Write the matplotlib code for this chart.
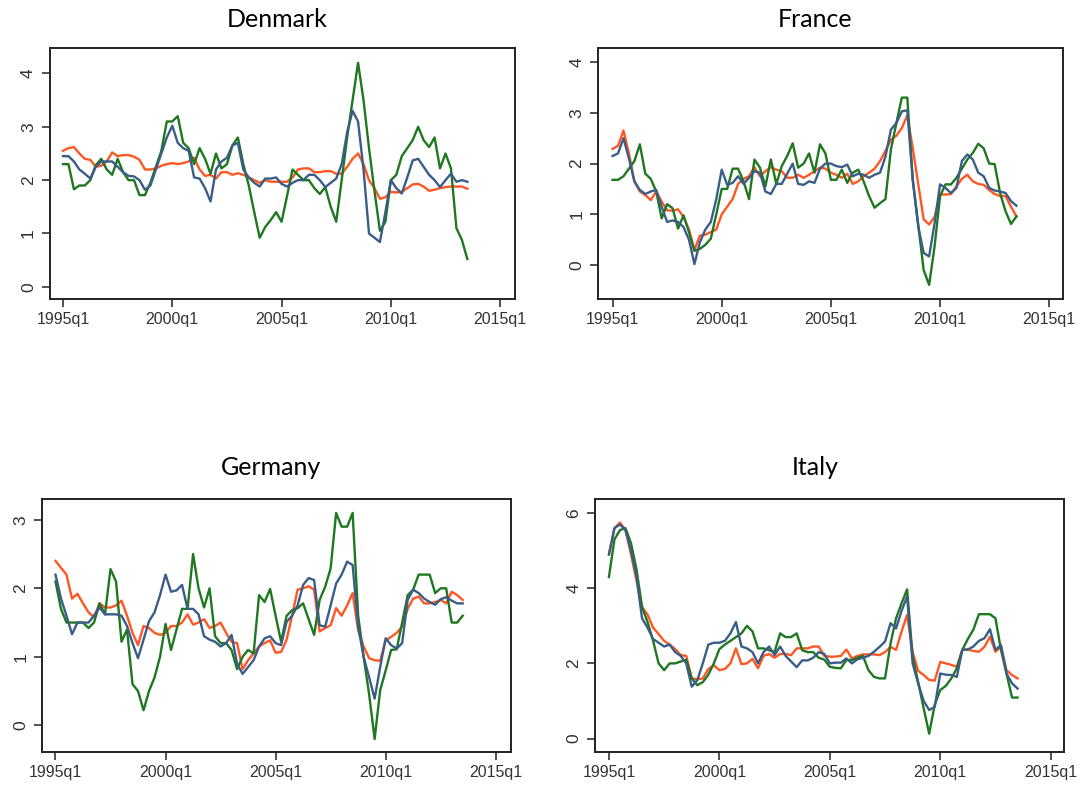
import numpy as np
import matplotlib
matplotlib.use('Agg')
import matplotlib.pyplot as plt

# quarterly index: 0 = 1995q1
tick_pos = [0, 20, 40, 60, 80]
tick_labels = ['1995q1', '2000q1', '2005q1', '2010q1', '2015q1']

denmark_orange = [2.55, 2.6, 2.62, 2.5, 2.4, 2.38, 2.25, 2.27, 2.35, 2.52,
                  2.45, 2.47, 2.47, 2.44, 2.38, 2.2, 2.2, 2.22, 2.27, 2.3,
                  2.32, 2.3, 2.32, 2.35, 2.42, 2.2, 2.08, 2.1, 2.03, 2.15,
                  2.15, 2.1, 2.13, 2.1, 2.05, 2.0, 1.95, 2.0, 1.97, 1.97,
                  1.97, 1.97, 2.05, 2.2, 2.22, 2.22, 2.15, 2.15, 2.17, 2.17,
                  2.12, 2.12, 2.25, 2.4, 2.5, 2.3, 2.0, 1.85, 1.65, 1.68,
                  1.78, 1.77, 1.78, 1.85, 1.92, 1.93, 1.88, 1.8, 1.82, 1.85,
                  1.87, 1.88, 1.88, 1.88, 1.84]
denmark_green = [2.3, 2.3, 1.83, 1.9, 1.9, 2.0, 2.28, 2.4, 2.2, 2.1,
                 2.4, 2.15, 2.0, 2.0, 1.72, 1.72, 1.95, 2.25, 2.55, 3.1,
                 3.1, 3.2, 2.7, 2.6, 2.3, 2.6, 2.4, 2.12, 2.5, 2.22,
                 2.3, 2.65, 2.8, 2.3, 1.9, 1.4, 0.92, 1.12, 1.25, 1.4,
                 1.22, 1.7, 2.2, 2.1, 2.0, 2.0, 1.85, 1.74, 1.87, 1.5,
                 1.22, 2.0, 2.8, 3.5, 4.2, 3.5, 2.6, 1.8, 1.05, 1.22,
                 2.0, 2.1, 2.45, 2.6, 2.75, 3.0, 2.75, 2.62, 2.8, 2.22,
                 2.5, 2.22, 1.1, 0.88, 0.52]
denmark_blue = [2.45, 2.45, 2.35, 2.2, 2.12, 2.03, 2.25, 2.35, 2.35, 2.35,
                2.25, 2.15, 2.08, 2.07, 2.0, 1.82, 1.9, 2.2, 2.5, 2.8,
                3.02, 2.7, 2.6, 2.55, 2.05, 2.03, 1.85, 1.6, 2.2, 2.35,
                2.42, 2.65, 2.7, 2.2, 2.05, 1.95, 1.88, 2.03, 2.03, 2.05,
                1.93, 1.88, 1.95, 2.0, 2.0, 2.1, 2.1, 2.0, 1.87, 1.95,
                2.03, 2.3, 2.9, 3.3, 3.1, 2.2, 1.0, 0.92, 0.84, 1.4,
                2.0, 1.85, 1.75, 2.05, 2.37, 2.4, 2.25, 2.1, 2.0, 1.87,
                2.0, 2.12, 1.97, 2.0, 1.97]

france_orange = [2.29, 2.35, 2.65, 2.2, 1.65, 1.45, 1.38, 1.28, 1.45, 1.25,
                 1.08, 1.07, 1.1, 0.95, 0.7, 0.3, 0.58, 0.6, 0.65, 0.7,
                 1.0, 1.15, 1.3, 1.6, 1.7, 1.75, 1.93, 1.75, 1.85, 1.93,
                 1.88, 1.85, 1.72, 1.72, 1.78, 1.72, 1.78, 1.85, 1.92, 1.9,
                 1.82, 1.78, 1.72, 1.8, 1.6, 1.65, 1.75, 1.82, 1.9, 2.05,
                 2.25, 2.47, 2.55, 2.7, 2.95, 2.3, 1.6, 0.9, 0.8, 0.95,
                 1.39, 1.39, 1.4, 1.55, 1.7, 1.78, 1.65, 1.6, 1.58, 1.48,
                 1.4, 1.36, 1.36, 1.15, 0.96]
france_green = [1.68, 1.68, 1.75, 1.9, 2.05, 2.38, 1.8, 1.7, 1.45, 0.92,
                1.2, 1.12, 0.72, 0.98, 0.65, 0.28, 0.32, 0.4, 0.52, 1.0,
                1.5, 1.5, 1.9, 1.9, 1.65, 1.3, 2.08, 1.92, 1.55, 2.08,
                1.6, 1.95, 2.15, 2.4, 1.92, 2.0, 2.2, 1.82, 2.38, 2.2,
                1.68, 1.68, 1.88, 1.62, 1.82, 1.88, 1.65, 1.36, 1.13, 1.22,
                1.3, 2.28, 2.8, 3.3, 3.3, 1.68, 0.8, -0.1, -0.39, 0.37,
                1.36, 1.59, 1.59, 1.72, 1.9, 2.08, 2.21, 2.39, 2.3, 2.0,
                1.99, 1.42, 1.06, 0.81, 0.96]
france_blue = [2.15, 2.2, 2.5, 2.1, 1.65, 1.48, 1.4, 1.45, 1.48, 1.15,
               0.85, 0.88, 0.85, 0.75, 0.5, 0.02, 0.45, 0.7, 0.85, 1.3,
               1.88, 1.58, 1.62, 1.75, 1.6, 1.72, 1.85, 1.82, 1.45, 1.4,
               1.6, 1.6, 1.8, 2.0, 1.6, 1.58, 1.65, 1.62, 1.9, 2.0,
               2.0, 1.95, 1.93, 1.98, 1.75, 1.8, 1.78, 1.72, 1.78, 1.82,
               2.14, 2.67, 2.8, 3.03, 3.05, 1.68, 0.76, 0.24, 0.17, 0.83,
               1.59, 1.52, 1.42, 1.52, 2.05, 2.18, 2.08, 1.82, 1.75, 1.52,
               1.47, 1.45, 1.42, 1.26, 1.17]

germany_orange = [2.4, 2.3, 2.2, 1.85, 1.92, 1.78, 1.65, 1.58, 1.78, 1.72,
                  1.72, 1.75, 1.82, 1.6, 1.35, 1.17, 1.45, 1.42, 1.35, 1.32,
                  1.35, 1.45, 1.45, 1.5, 1.62, 1.47, 1.5, 1.55, 1.42, 1.45,
                  1.5, 1.35, 1.22, 1.2, 0.82, 0.95, 1.05, 1.15, 1.2, 1.24,
                  1.06, 1.07, 1.25, 1.6, 1.98, 2.0, 2.03, 1.98, 1.37, 1.42,
                  1.46, 1.71, 1.6, 1.75, 1.93, 1.39, 1.15, 0.98, 0.95, 0.94,
                  1.24, 1.29, 1.35, 1.44, 1.7, 1.85, 1.88, 1.78, 1.78, 1.8,
                  1.83, 1.78, 1.95, 1.9, 1.83]
germany_green = [2.1, 1.7, 1.5, 1.5, 1.5, 1.5, 1.42, 1.5, 1.78, 1.62,
                 2.28, 2.1, 1.22, 1.4, 0.6, 0.5, 0.22, 0.5, 0.7, 1.0,
                 1.48, 1.1, 1.4, 1.7, 1.7, 2.5, 2.0, 1.72, 2.0, 1.3,
                 1.2, 1.2, 1.1, 0.82, 1.0, 1.1, 1.05, 1.9, 1.8, 1.99,
                 1.6, 1.22, 1.6, 1.68, 1.71, 1.78, 1.55, 1.32, 1.83, 2.02,
                 2.29, 3.1, 2.9, 2.9, 3.1, 1.6, 1.0, 0.45, -0.2, 0.51,
                 0.8, 1.1, 1.11, 1.5, 1.9, 1.98, 2.2, 2.2, 2.2, 1.93,
                 2.0, 2.0, 1.5, 1.5, 1.6]
germany_blue = [2.2, 1.85, 1.6, 1.33, 1.5, 1.5, 1.5, 1.6, 1.72, 1.62,
                1.62, 1.62, 1.6, 1.45, 1.2, 0.98, 1.25, 1.52, 1.65, 1.9,
                2.2, 1.95, 1.97, 2.05, 1.7, 1.7, 1.62, 1.3, 1.25, 1.22,
                1.15, 1.2, 1.32, 0.9, 0.75, 0.85, 0.95, 1.15, 1.27, 1.3,
                1.2, 1.17, 1.51, 1.6, 1.75, 2.05, 2.15, 2.12, 1.46, 1.44,
                1.75, 2.07, 2.2, 2.39, 2.34, 1.44, 1.0, 0.7, 0.39, 0.85,
                1.27, 1.17, 1.12, 1.2, 1.83, 1.98, 1.93, 1.85, 1.8, 1.76,
                1.84, 1.87, 1.82, 1.78, 1.78]

italy_orange = [4.9, 5.6, 5.75, 5.55, 4.9, 4.2, 3.5, 3.3, 2.95, 2.78,
                2.6, 2.5, 2.38, 2.22, 2.2, 1.6, 1.58, 1.6, 1.85, 1.95,
                1.82, 1.85, 2.0, 2.4, 1.98, 2.0, 2.12, 1.87, 2.2, 2.25,
                2.15, 2.25, 2.25, 2.22, 2.4, 2.4, 2.4, 2.45, 2.45, 2.2,
                2.18, 2.18, 2.2, 2.37, 2.13, 2.2, 2.24, 2.24, 2.24, 2.22,
                2.3, 2.44, 2.36, 2.85, 3.29, 2.3, 1.8, 1.69, 1.56, 1.54,
                2.04, 2.0, 1.96, 1.91, 2.36, 2.37, 2.33, 2.31, 2.44, 2.71,
                2.31, 2.44, 1.82, 1.69, 1.6]
italy_green = [4.3, 5.3, 5.55, 5.6, 5.2, 4.5, 3.5, 3.1, 2.6, 2.0,
               1.82, 2.0, 2.0, 2.05, 2.1, 1.6, 1.42, 1.5, 1.7, 2.0,
               2.38, 2.5, 2.6, 2.7, 2.8, 3.0, 2.85, 2.4, 2.4, 2.35,
               2.3, 2.8, 2.7, 2.7, 2.8, 2.35, 2.3, 2.3, 2.15, 2.1,
               1.91, 1.88, 1.87, 2.09, 2.09, 2.15, 2.2, 1.82, 1.64, 1.6,
               1.6, 2.53, 3.2, 3.6, 3.97, 2.18, 1.5, 0.8, 0.13, 0.9,
               1.29, 1.4, 1.6, 1.87, 2.36, 2.65, 2.9, 3.31, 3.31, 3.31,
               3.2, 2.36, 1.73, 1.09, 1.09]
italy_blue = [4.9, 5.6, 5.7, 5.55, 5.0, 4.3, 3.2, 2.95, 2.65, 2.55,
              2.45, 2.5, 2.3, 2.2, 2.0, 1.38, 1.55, 2.0, 2.5, 2.55,
              2.55, 2.6, 2.8, 3.1, 2.45, 2.4, 2.3, 2.0, 2.3, 2.45,
              2.22, 2.45, 2.2, 2.05, 1.9, 2.08, 2.08, 2.15, 2.3, 2.25,
              2.0, 2.02, 2.02, 2.13, 2.0, 2.11, 2.15, 2.2, 2.31, 2.44,
              2.58, 3.07, 2.93, 3.4, 3.78, 2.0, 1.47, 1.0, 0.76, 0.84,
              1.73, 1.7, 1.69, 1.64, 2.36, 2.37, 2.45, 2.6, 2.67, 2.91,
              2.36, 2.49, 1.73, 1.47, 1.33]

green = '#1f771f'
blue = '#3a5d88'
orange = '#ff5724'

fig = plt.figure(figsize=(10.84, 7.85), dpi=100)
plt.rcParams['font.family'] = ['Liberation Sans', 'DejaVu Sans']


def panel(rect, title, title_xy, o, g, b, yticks, ylim, xlim):
    ax = fig.add_axes(rect)
    ax.plot(np.arange(len(o)), o, color=orange, lw=1.7)
    ax.plot(np.arange(len(g)), g, color=green, lw=1.7)
    ax.plot(np.arange(len(b)), b, color=blue, lw=1.7)
    ax.set_xlim(xlim)
    ax.set_ylim(ylim)
    ax.set_xticks(tick_pos)
    ax.set_xticklabels(tick_labels)
    ax.set_yticks(yticks)
    ax.set_yticklabels([str(t) for t in yticks], rotation=90, va='center')
    ax.tick_params(axis='x', labelsize=11.5, pad=3)
    ax.tick_params(axis='y', labelsize=12.5, pad=4)
    ax.tick_params(axis='both', color='#222222', labelcolor='#333333',
                   length=6, width=1.1)
    for s in ax.spines.values():
        s.set_linewidth(1.4)
        s.set_color('#222222')
    fig.text(title_xy[0], title_xy[1], title, ha='center', va='center',
             fontsize=18, family=['Lato', 'DejaVu Sans'])
    return ax


panel([0.046, 0.619, 0.429, 0.320], 'Denmark', (0.256, 0.975),
      denmark_orange, denmark_green, denmark_blue, [0, 1, 2, 3, 4],
      (-0.23, 4.48), (-2.4, 82.7))
panel([0.552, 0.619, 0.429, 0.320], 'France', (0.752, 0.975),
      france_orange, france_green, france_blue, [0, 1, 2, 3, 4],
      (-0.67, 4.28), (-2.6, 82.6))
panel([0.039, 0.042, 0.432, 0.322], 'Germany', (0.250, 0.404),
      germany_orange, germany_green, germany_blue, [0, 1, 2, 3],
      (-0.39, 3.3), (-2.4, 82.7))
panel([0.549, 0.042, 0.433, 0.322], 'Italy', (0.752, 0.404),
      italy_orange, italy_green, italy_blue, [0, 2, 4, 6],
      (-0.36, 6.37), (-2.5, 82.5))

fig.savefig('out.png', dpi=100)
